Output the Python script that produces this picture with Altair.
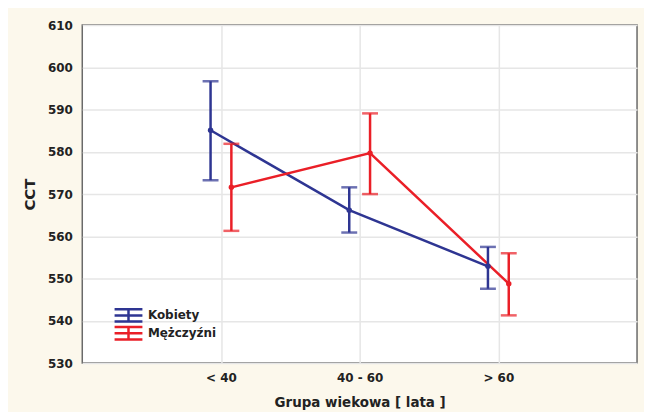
import altair as alt
import pandas as pd

categories = ["< 40", "40 - 60", "> 60"]
series = ["Kobiety", "Mężczyźni"]
colors = ["#2e3592", "#ea1f27"]

kobiety_mean = [585.1, 566.2, 552.9]
kobiety_lo = [573.3, 560.9, 547.6]
kobiety_hi = [596.7, 571.6, 557.5]

mezczyzni_mean = [571.6, 579.7, 548.8]
mezczyzni_lo = [561.3, 570.0, 541.3]
mezczyzni_hi = [581.9, 589.1, 556.0]

y_ticks = [530, 540, 550, 560, 570, 580, 590, 600, 610]

rows = []
for s, means, los, his in [
    (series[0], kobiety_mean, kobiety_lo, kobiety_hi),
    (series[1], mezczyzni_mean, mezczyzni_lo, mezczyzni_hi),
]:
    for i, c in enumerate(categories):
        rows.append({"cat": c, "idx": i + 1, "series": s,
                     "mean": means[i], "lo": los[i], "hi": his[i]})
df = pd.DataFrame(rows)

label_expr = " : ".join(
    f"datum.value == {i + 1} ? '{c}'" for i, c in enumerate(categories)
) + " : ''"

FONT = "DejaVu Sans"

x_enc = alt.X(
    "pos:Q",
    scale=alt.Scale(domain=[0, 4], nice=False, zero=False),
    axis=alt.Axis(
        values=[1, 2, 3],
        labelExpr=label_expr,
        title="Grupa wiekowa [ lata ]",
        grid=True,
        gridColor="#e6e6e6",
        gridWidth=1.5,
        ticks=False,
        domain=False,
        labelFont=FONT,
        labelFontWeight="bold",
        labelFontSize=12,
        labelColor="#222222",
        labelPadding=10,
        titleFont=FONT,
        titleFontWeight="bold",
        titleFontSize=13.5,
        titleColor="#222222",
        titleX=279,
        titleY=44,
        titleBaseline="alphabetic",
        titleAlign="center",
    ),
)

y_scale = alt.Scale(domain=[530, 610], nice=False, zero=False)
y_axis = alt.Axis(
    values=y_ticks,
    title="CCT",
    grid=True,
    gridColor="#e6e6e6",
    gridWidth=1.5,
    ticks=False,
    domain=False,
    labelFont=FONT,
    labelFontWeight="bold",
    labelFontSize=12,
    labelColor="#222222",
    labelPadding=10,
    titleFont=FONT,
    titleFontWeight="bold",
    titleFontSize=15,
    titleColor="#222222",
    titleAngle=-90,
    titleX=-53,
    titleY=170,
    titleAlign="center",
    titleBaseline="middle",
)

legend = alt.Legend(
    title=None,
    orient="none",
    legendX=31,
    legendY=283,
    symbolType="M-1,-1.25H4.6M-1,0H4.6M-1,1.25H4.6M1.8,-1.25V1.25",
    symbolSize=100,
    symbolStrokeWidth=2.5,
    symbolFillColor="transparent",
    clipHeight=18,
    rowPadding=0,
    padding=0,
    labelOffset=22,
    labelFont=FONT,
    labelFontWeight="bold",
    labelFontSize=12,
    labelColor="#222222",
)

stroke_enc = alt.Stroke("series:N", scale=alt.Scale(domain=series, range=colors), legend=legend)
fill_enc = alt.Fill("series:N", scale=alt.Scale(domain=series, range=colors), legend=None)

base = alt.Chart(df).transform_calculate(
    pos="datum.idx + (datum.series == 'Kobiety' ? -0.075 : 0.075)"
)

lines = base.mark_line(strokeWidth=2.5).encode(
    x=x_enc,
    y=alt.Y("mean:Q", scale=y_scale, axis=y_axis),
    stroke=stroke_enc,
    detail="series:N",
)

rules = base.mark_rule(strokeWidth=2.5).encode(
    x="pos:Q",
    y="lo:Q",
    y2="hi:Q",
    stroke=stroke_enc,
)

caps_lo = base.mark_tick(orient="horizontal", size=16, thickness=2.5).encode(
    x="pos:Q", y="lo:Q", fill=fill_enc
)
caps_hi = base.mark_tick(orient="horizontal", size=16, thickness=2.5).encode(
    x="pos:Q", y="hi:Q", fill=fill_enc
)

points = base.mark_point(filled=True, size=30, opacity=1).encode(
    x="pos:Q", y="mean:Q", fill=fill_enc
)

chart = alt.layer(lines, rules, caps_lo, caps_hi, points).properties(
    width=558,
    height=340,
    background="#fcf8ec",
    padding={"left": 74.7, "top": 16, "right": 7, "bottom": 48},
    autosize=alt.AutoSizeParams(type="none"),
).configure_view(
    fill="white",
    stroke="#6a6a6a",
    strokeWidth=1.5,
)

chart.save("out.html", embed_options={"renderer": "svg", "actions": False})
